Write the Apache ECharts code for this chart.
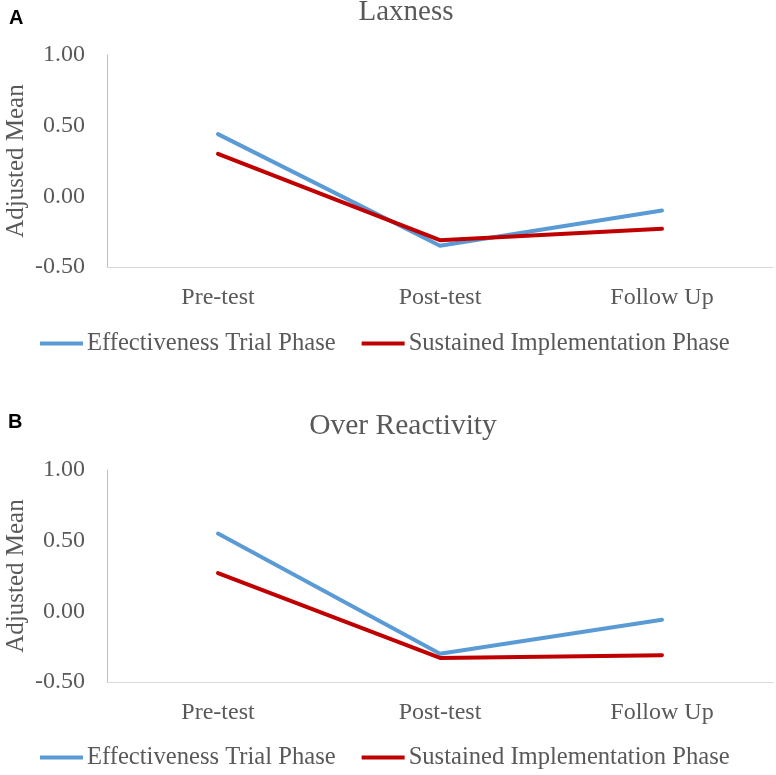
<!DOCTYPE html>
<html>
<head>
<meta charset="utf-8">
<script src="https://cdn.jsdelivr.net/npm/echarts@6/dist/echarts.min.js"></script>
<style>
html,body{margin:0;padding:0;background:#fff;}
#chart{width:776px;height:775px;}
</style>
</head>
<body>
<div id="chart"></div>
<script>
var categories = ['Pre-test', 'Post-test', 'Follow Up'];
var yTicks = [-0.5, 0, 0.5, 1.0];
var laxnessEffectiveness = [0.44, -0.35, -0.10];
var laxnessSustained = [0.30, -0.31, -0.23];
var overReactEffectiveness = [0.55, -0.30, -0.06];
var overReactSustained = [0.27, -0.33, -0.31];
var seriesNames = ['Effectiveness Trial Phase', 'Sustained Implementation Phase'];
var panelTitles = ['Laxness', 'Over Reactivity'];
var panelLetters = ['A', 'B'];
var yAxisTitle = 'Adjusted Mean';

var SERIF = '"Liberation Serif", "Times New Roman", serif';
var GRAY = '#595959';
var BLUE = '#5B9BD5';
var RED = '#C00000';

var gridTops = [55, 470];
var gridH = 212;

function yAxis(i) {
  return {
    type: 'value', gridIndex: i,
    min: yTicks[0], max: yTicks[yTicks.length - 1], interval: 0.5,
    axisLine: { show: true, lineStyle: { color: '#bfbfbf', width: 1 } },
    axisTick: { show: false },
    splitLine: { show: false },
    axisLabel: { fontFamily: SERIF, fontSize: 24, color: GRAY, margin: 22,
      formatter: function (v) { return v.toFixed(2); } }
  };
}
function xAxis(i) {
  return {
    type: 'category', gridIndex: i, data: categories, boundaryGap: true,
    axisLine: { show: true, onZero: false, lineStyle: { color: '#d9d9d9', width: 1 } },
    axisTick: { show: false },
    axisLabel: { fontFamily: SERIF, fontSize: 24, color: GRAY, margin: 19 }
  };
}
function line(name, data, color, i) {
  return {
    type: 'line', name: name, data: data, xAxisIndex: i, yAxisIndex: i,
    symbol: 'none', color: color,
    lineStyle: { color: color, width: 4, cap: 'round', join: 'round' },
    animation: false
  };
}
function legend(top) {
  return {
    data: seriesNames, left: 35, top: top, itemWidth: 43, itemHeight: 4,
    itemGap: 26, icon: 'rect',
    textStyle: { fontFamily: SERIF, fontSize: 24.6, color: GRAY, padding: [0, 0, 0, -1] }
  };
}
function yTitle(i) {
  return {
    type: 'text', x: 16, y: gridTops[i] + gridH / 2, rotation: Math.PI / 2,
    style: { text: yAxisTitle, font: '25px ' + SERIF, fill: GRAY,
      align: 'center', verticalAlign: 'middle' }
  };
}

var option = {
  backgroundColor: '#fff',
  animation: false,
  title: [
    { text: panelTitles[0], left: 401, top: -7, textAlign: 'center',
      textStyle: { fontFamily: SERIF, fontSize: 29, fontWeight: 'normal', color: GRAY } },
    { text: panelTitles[1], left: 398, top: 406, textAlign: 'center',
      textStyle: { fontFamily: SERIF, fontSize: 29.5, fontWeight: 'normal', color: GRAY } },
    { text: panelLetters[0], left: 4, top: 3,
      textStyle: { fontFamily: '"Liberation Sans", Arial, sans-serif', fontSize: 20, fontWeight: 'bold', color: '#000' } },
    { text: panelLetters[1], left: 3, top: 407,
      textStyle: { fontFamily: '"Liberation Sans", Arial, sans-serif', fontSize: 20, fontWeight: 'bold', color: '#000' } }
  ],
  graphic: [yTitle(0), yTitle(1)],
  legend: [legend(326), legend(740)],
  grid: [
    { left: 107, right: 3, top: gridTops[0], height: gridH, containLabel: false, outerBoundsMode: 'none' },
    { left: 107, right: 3, top: gridTops[1], height: gridH, containLabel: false, outerBoundsMode: 'none' }
  ],
  xAxis: [xAxis(0), xAxis(1)],
  yAxis: [yAxis(0), yAxis(1)],
  series: [
    line(seriesNames[0], laxnessEffectiveness, BLUE, 0),
    line(seriesNames[1], laxnessSustained, RED, 0),
    line(seriesNames[0], overReactEffectiveness, BLUE, 1),
    line(seriesNames[1], overReactSustained, RED, 1)
  ]
};
var chart = echarts.init(document.getElementById('chart'), null, { renderer: 'canvas' });
chart.setOption(option);
</script>
</body>
</html>
